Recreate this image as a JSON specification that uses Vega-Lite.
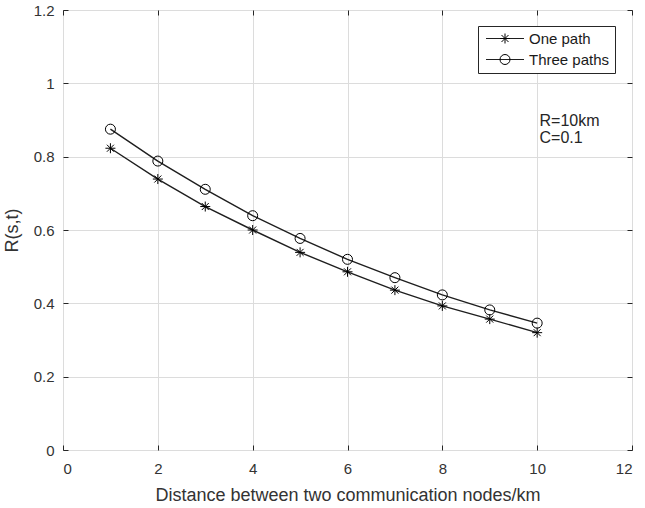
{
  "$schema": "https://vega.github.io/schema/vega-lite/v6.json",
  "width": 569,
  "height": 440,
  "autosize": "none",
  "padding": {"left": 63, "top": 10, "right": 13, "bottom": 58},
  "background": "white",
  "config": {
    "font": "Liberation Sans",
    "view": {"stroke": "#262626", "strokeWidth": 1},
    "axis": {
      "domain": false,
      "gridColor": "#dcdcdc",
      "gridWidth": 1,
      "gridOpacity": 1,
      "tickColor": "#262626",
      "tickSize": -5,
      "labelFont": "Liberation Sans",
      "labelFontSize": 15,
      "labelColor": "#333333",
      "titleFont": "Liberation Sans",
      "titleFontWeight": "normal",
      "titleColor": "#333333",
      "titleFontSize": 18
    }
  },
  "data": {
    "values": [
      {"d": 1, "R": 0.823, "series": "One path"},
      {"d": 2, "R": 0.739, "series": "One path"},
      {"d": 3, "R": 0.664, "series": "One path"},
      {"d": 4, "R": 0.600, "series": "One path"},
      {"d": 5, "R": 0.539, "series": "One path"},
      {"d": 6, "R": 0.486, "series": "One path"},
      {"d": 7, "R": 0.436, "series": "One path"},
      {"d": 8, "R": 0.393, "series": "One path"},
      {"d": 9, "R": 0.357, "series": "One path"},
      {"d": 10, "R": 0.320, "series": "One path"},
      {"d": 1, "R": 0.875, "series": "Three paths"},
      {"d": 2, "R": 0.788, "series": "Three paths"},
      {"d": 3, "R": 0.711, "series": "Three paths"},
      {"d": 4, "R": 0.639, "series": "Three paths"},
      {"d": 5, "R": 0.577, "series": "Three paths"},
      {"d": 6, "R": 0.520, "series": "Three paths"},
      {"d": 7, "R": 0.470, "series": "Three paths"},
      {"d": 8, "R": 0.423, "series": "Three paths"},
      {"d": 9, "R": 0.382, "series": "Three paths"},
      {"d": 10, "R": 0.346, "series": "Three paths"}
    ]
  },
  "layer": [
    {
      "mark": {"type": "line", "strokeWidth": 1.4},
      "encoding": {
        "x": {
          "field": "d", "type": "quantitative",
          "scale": {"domain": [0, 12], "nice": false, "zero": false},
          "axis": {
            "orient": "bottom",
            "values": [0, 2, 4, 6, 8, 10, 12],
            "format": "~g",
            "labelPadding": 16,
            "titlePadding": 10,
            "title": "Distance between two communication nodes/km"
          }
        },
        "y": {
          "field": "R", "type": "quantitative",
          "scale": {"domain": [0, 1.2], "nice": false, "zero": false},
          "axis": {
            "orient": "left",
            "values": [0, 0.2, 0.4, 0.6, 0.8, 1, 1.2],
            "format": "~g",
            "labelPadding": 14,
            "titlePadding": 12,
            "title": "R(s,t)"
          }
        },
        "color": {
          "field": "series", "type": "nominal",
          "scale": {"range": ["#1e1e1e", "#1e1e1e"]},
          "legend": {
            "orient": "none",
            "legendX": 415,
            "legendY": 16,
            "title": null,
            "strokeColor": "#262626",
            "fillColor": "white",
            "padding": 5,
            "rowPadding": 5,
            "labelFont": "Liberation Sans",
            "labelFontSize": 15,
            "labelColor": "#1a1a1a",
            "symbolType": "M-0.9,0H6.7",
            "symbolSize": 100,
            "symbolStrokeWidth": 1.2,
            "labelOffset": 31
          }
        }
      }
    },
    {
      "mark": {"type": "point", "filled": false, "color": "black", "strokeWidth": 1, "size": 100, "opacity": 1},
      "encoding": {
        "x": {
          "field": "d", "type": "quantitative",
          "axis": {"orient": "top", "values": [0, 2, 4, 6, 8, 10, 12], "labels": false, "title": null, "grid": false}
        },
        "y": {
          "field": "R", "type": "quantitative",
          "axis": {"orient": "right", "values": [0, 0.2, 0.4, 0.6, 0.8, 1, 1.2], "labels": false, "title": null, "grid": false}
        },
        "shape": {
          "field": "series", "type": "nominal",
          "scale": {
            "domain": ["One path", "Three paths"],
            "range": ["M0,-1V1M-1,0H1M-0.7,-0.7L0.7,0.7M-0.7,0.7L0.7,-0.7", "circle"]
          },
          "legend": {
            "orient": "none",
            "legendX": 415,
            "legendY": 16,
            "title": null,
            "padding": 5,
            "rowPadding": 5,
            "labelFont": "Liberation Sans",
            "labelFontSize": 15,
            "labelExpr": "''",
            "symbolSize": 100,
            "symbolOffset": 14.5,
            "symbolStrokeColor": "black",
            "symbolFillColor": "transparent",
            "symbolStrokeWidth": 1,
            "labelOffset": 31
          }
        }
      }
    },
    {
      "data": {"values": [
        {"x": 10.05, "y": 0.897, "t": "R=10km"},
        {"x": 10.05, "y": 0.851, "t": "C=0.1"}
      ]},
      "mark": {"type": "text", "align": "left", "baseline": "middle", "fontSize": 16, "color": "#262626", "font": "Liberation Sans"},
      "encoding": {
        "x": {"field": "x", "type": "quantitative", "axis": null},
        "y": {"field": "y", "type": "quantitative", "axis": null},
        "text": {"field": "t", "type": "nominal"}
      }
    }
  ],
  "resolve": {"axis": {"x": "independent", "y": "independent"}}
}
